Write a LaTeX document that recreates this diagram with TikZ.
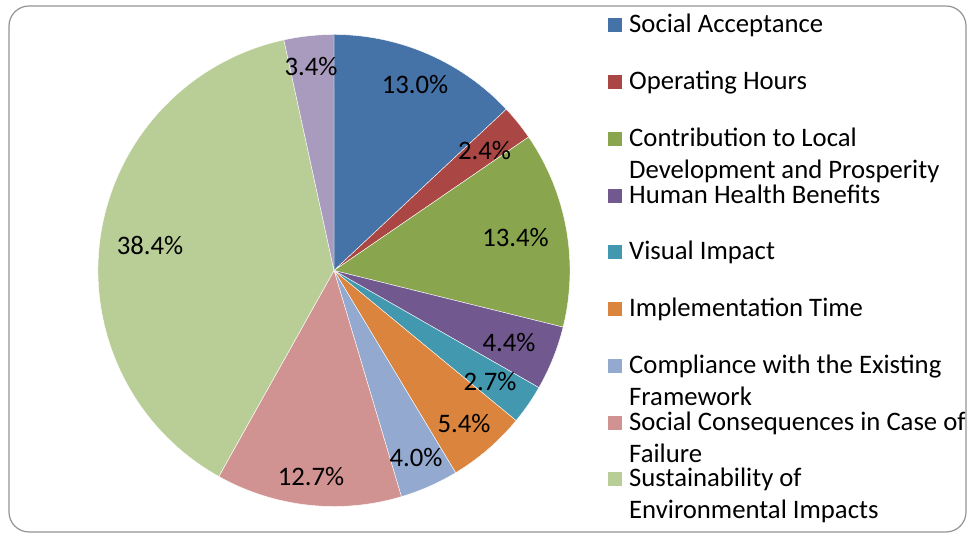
\documentclass[tikz,border=0pt]{standalone}
\usepackage{fontspec}
\setmainfont{Carlito}
\usetikzlibrary{positioning}

\definecolor{accept}{HTML}{4572A7}
\definecolor{hours}{HTML}{AA4643}
\definecolor{local}{HTML}{89A54E}
\definecolor{health}{HTML}{71588F}
\definecolor{visual}{HTML}{4198AF}
\definecolor{impl}{HTML}{DB843D}
\definecolor{compl}{HTML}{93A9CF}
\definecolor{failure}{HTML}{D19392}
\definecolor{sustain}{HTML}{B9CD96}
\definecolor{other}{HTML}{A99BBD}

\begin{document}
\begin{tikzpicture}[x=1pt, y=1pt,
    every node/.style={inner sep=0pt, font=\fontsize{26.7}{32}\selectfont}]
  \useasboundingbox (0,0) rectangle (968,534);
  \draw[gray!85, line width=1.2pt, rounded corners=20pt] (9,2) rectangle (966,528);
  \coordinate (c) at (334,263.5);
  % slices, clockwise from the top
  \foreach \val/\col [remember=\endang as \startang (initially 90)] in
      {13.0/accept, 2.4/hours, 13.4/local, 4.4/health, 2.7/visual,
       5.4/impl, 4.0/compl, 12.7/failure, 38.4/sustain, 3.4/other}{
    \pgfmathsetmacro\endang{\startang-\val*3.6072}
    \fill[\col, draw=white, line width=0.4pt] (c) -- ++(\startang:236)
      arc[start angle=\startang, end angle=\endang, radius=236] -- cycle;
  }
  % percentages
  \foreach \val/\lx/\ly [count=\i] in
      {13.0/415/449, 2.4/484.5/383, 13.4/515.5/296, 4.4/509/191, 2.7/490/152,
       5.4/464/110, 4.0/416/76, 12.7/311/57, 38.4/150/289, 3.4/311/467}
    \node (p\i) at (\lx,\ly) {\val\%};
  % legend (\ex = extra lines below the first)
  \foreach \txt/\col/\ex [count=\i] in
      {{Social Acceptance}/accept/0, {Operating Hours}/hours/0,
       {Contribution to Local\\Development and Prosperity}/local/1,
       {Human Health Benefits}/health/0, {Visual Impact}/visual/0,
       {Implementation Time}/impl/0,
       {Compliance with the Existing\\Framework}/compl/1,
       {Social Consequences in Case of\\Failure}/failure/1,
       {Sustainability of\\Environmental Impacts}/sustain/1}{
    \pgfmathsetmacro\yb{501-(\i-1)*56.75}
    \fill[\col] (608,\yb+0.5) rectangle ++(14,14);
    \node[anchor=base west, align=left] (l\i) at (629,\yb-32*\ex) {\txt};
  }
\end{tikzpicture}
\end{document}
